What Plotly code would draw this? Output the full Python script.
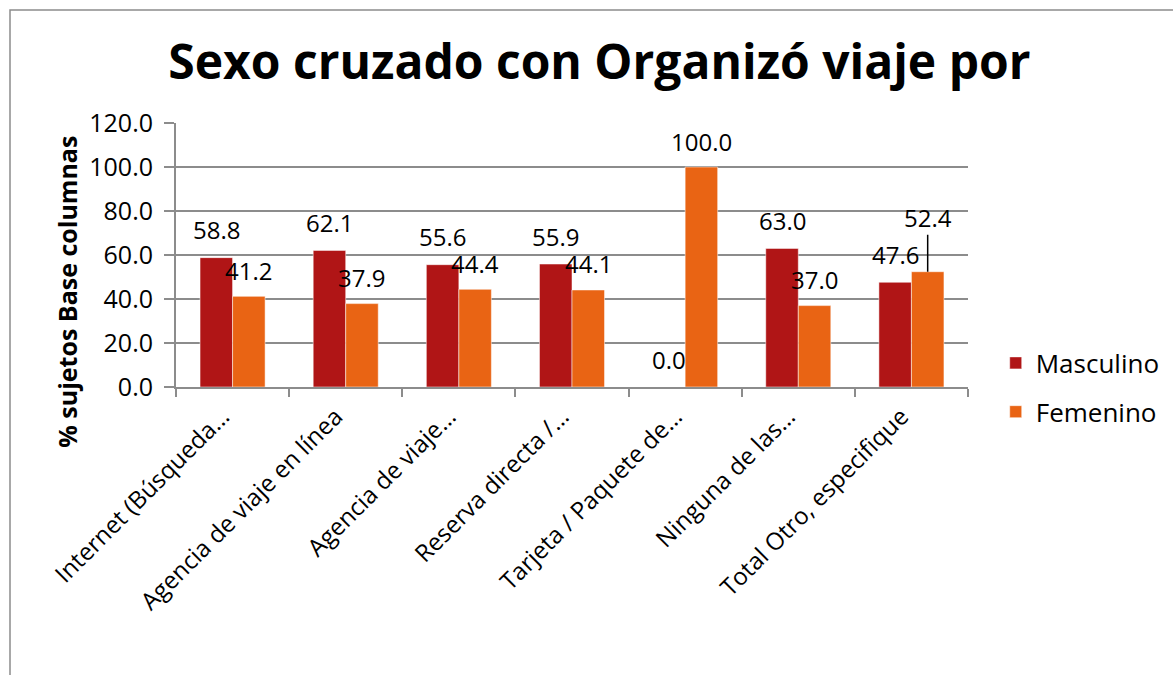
import plotly.graph_objects as go

categories = [
    "Internet (Búsqueda…",
    "Agencia de viaje en línea",
    "Agencia de viaje…",
    "Reserva directa /…",
    "Tarjeta / Paquete de…",
    "Ninguna de las…",
    "Total Otro, especifique",
]
masculino = [58.8, 62.1, 55.6, 55.9, 0.0, 63.0, 47.6]
femenino = [41.2, 37.9, 44.4, 44.1, 100.0, 37.0, 52.4]
y_ticks = [0, 20, 40, 60, 80, 100, 120]

FONT = "Open Sans"
C_M = "#B01516"
C_F = "#E96414"
GRID = "#8C8C8C"

fig = go.Figure()
fig.add_trace(go.Bar(name="Masculino", x=categories, y=masculino,
                     marker=dict(color=C_M, line=dict(color="rgba(255,255,255,0.5)", width=1)),
                     legendgroup="m"))
fig.add_trace(go.Bar(name="Femenino", x=categories, y=femenino,
                     marker=dict(color=C_F, line=dict(color="rgba(255,255,255,0.5)", width=1)),
                     legendgroup="f"))

annotations = []
half = 16.25
LBL = 24
for cat, v in zip(categories, masculino):
    annotations.append(dict(x=cat, y=v, xref="x", yref="y", text=f"{v:.1f}",
                            showarrow=False, xshift=-half, yshift=28, yanchor="middle",
                            borderpad=0,
                            font=dict(family=FONT, size=LBL, color="#000")))
for cat, v in zip(categories, femenino):
    if cat == "Total Otro, especifique":
        annotations.append(dict(x=cat, y=v, xref="x", yref="y", text=f"{v:.1f}",
                                showarrow=True, arrowhead=0, arrowwidth=1.5, arrowcolor="#000",
                                ax=0, ay=-54, xshift=half, standoff=0, borderpad=0,
                                font=dict(family=FONT, size=LBL, color="#000")))
    else:
        annotations.append(dict(x=cat, y=v, xref="x", yref="y", text=f"{v:.1f}",
                                showarrow=False, xshift=half, yshift=26, yanchor="middle",
                                borderpad=0,
                                font=dict(family=FONT, size=LBL, color="#000")))

annotations.append(dict(text="<b>% sujetos Base columnas</b>", textangle=-90,
                        xref="paper", yref="paper", x=-0.138, y=0.36,
                        showarrow=False, xanchor="center", yanchor="middle",
                        font=dict(family=FONT, size=25, color="#000")))

fig.update_layout(
    width=1173, height=675,
    margin=dict(l=176, r=205, t=123, b=288, pad=0, autoexpand=False),
    paper_bgcolor="white", plot_bgcolor="white",
    barmode="group", bargap=0.425, bargroupgap=0,
    font=dict(family=FONT, color="#000"),
    title=dict(text="<b>Sexo cruzado con Organizó viaje por</b>", x=0.511, xanchor="center",
               y=0.908, yanchor="middle", font=dict(family=FONT, size=48, color="#000")),
    legend=dict(x=1.035, y=0.18, xanchor="left", yanchor="top",
                font=dict(family=FONT, size=26, color="#000"),
                traceorder="grouped", tracegroupgap=12, bgcolor="rgba(0,0,0,0)"),
    annotations=annotations,
    shapes=[dict(type="rect", xref="paper", yref="paper",
                 x0=(10 - 176) / 792, x1=1.5, y0=-2, y1=(387 - 10) / 264,
                 line=dict(color=GRID, width=1.5), fillcolor="rgba(0,0,0,0)", layer="below")],
)
fig.update_xaxes(showline=True, linecolor=GRID, linewidth=2, ticks="outside",
                 tickson="boundaries", ticklen=8, tickcolor=GRID, tickwidth=2,
                 tickangle=-45, tickfont=dict(family=FONT, size=24, color="#000"),
                 ticklabelshift=-10, ticklabelstandoff=4,
                 showgrid=False, automargin=False)
fig.update_yaxes(range=[0, 120], tickvals=y_ticks, ticktext=[f"{t:.1f}" for t in y_ticks],
                 showline=True, linecolor=GRID, linewidth=2, ticks="outside", ticklen=10,
                 tickcolor=GRID, tickwidth=2, showgrid=True, gridcolor=GRID, gridwidth=2,
                 ticklabelstandoff=6, automargin=False,
                 tickfont=dict(family=FONT, size=25, color="#000"), zeroline=False)

fig.write_html("out.html", config={"displayModeBar": False},
               post_script="document.body.style.margin='0';")
